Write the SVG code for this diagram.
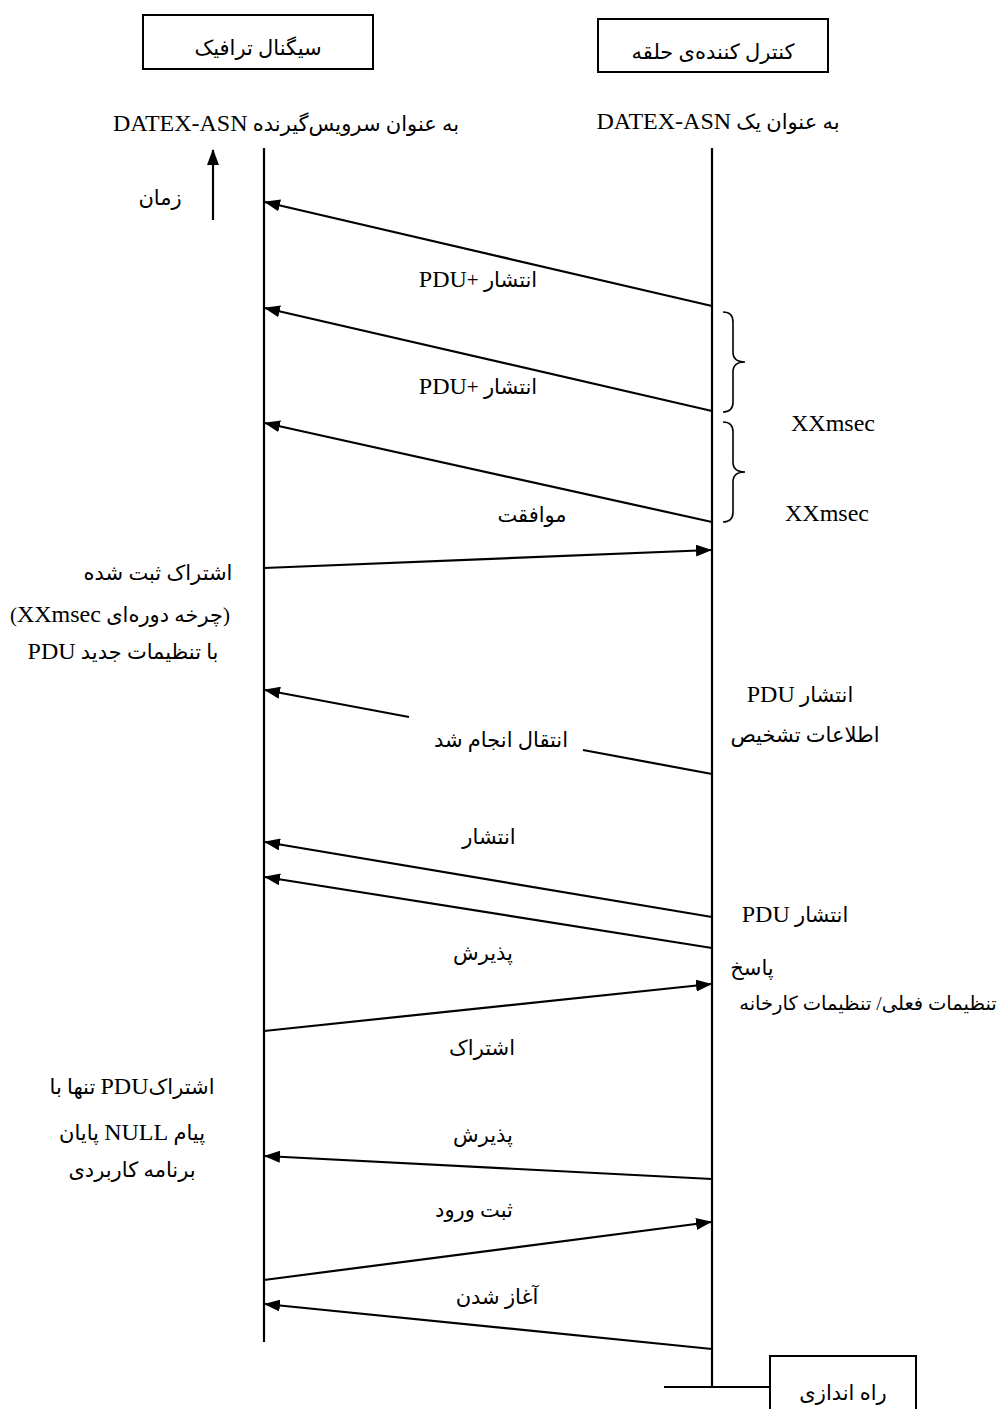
<svg xmlns="http://www.w3.org/2000/svg" width="1006" height="1409" viewBox="0 0 1006 1409">
<style>
text{font-family:"Liberation Serif","DejaVu Sans",serif;font-size:21px;fill:#000;text-anchor:middle;direction:rtl;unicode-bidi:embed}
.lat{font-size:24px}
.box{fill:#fff;stroke:#000;stroke-width:2}
.life{stroke:#000;stroke-width:2.2;fill:none}
.msg{stroke:#000;stroke-width:2.2;fill:none}
.brace{stroke:#000;stroke-width:1.6;fill:none}
</style>
<defs>
<marker id="ah" viewBox="0 0 16 12" refX="15" refY="6" markerUnits="userSpaceOnUse" markerWidth="16" markerHeight="12" orient="auto">
<path d="M0,0 L16,6 L0,12 Z" fill="#000"/>
</marker>
</defs>
<rect width="1006" height="1409" fill="#fff"/>

<g id="node-traffic-signal">
<rect class="box" x="143" y="15" width="230" height="54"/>
<text x="258" y="55">سیگنال ترافیک</text>
</g>
<g id="node-loop-controller">
<rect class="box" x="598" y="19" width="230" height="53"/>
<text x="713" y="59">کنترل کننده‌ی حلقه</text>
</g>
<g id="node-startup">
<rect class="box" x="770" y="1356" width="146" height="60"/>
<text x="843" y="1400">راه اندازی</text>
</g>

<g id="headers">
<text x="286" y="131">به عنوان سرویس‌گیرنده <tspan class="lat">DATEX-ASN</tspan></text>
<text x="718" y="129">به عنوان یک <tspan class="lat">DATEX-ASN</tspan></text>
</g>

<g id="lifelines">
<line class="life" x1="264" y1="148" x2="264" y2="1342"/>
<line class="life" x1="712" y1="148" x2="712" y2="1387"/>
<line class="life" x1="664" y1="1387" x2="770" y2="1387"/>
</g>

<g id="connectors">
<line class="msg" x1="213" y1="220" x2="213" y2="150" marker-end="url(#ah)"/>
<line class="msg" x1="712" y1="306" x2="265" y2="202" marker-end="url(#ah)"/>
<line class="msg" x1="712" y1="411" x2="265" y2="308" marker-end="url(#ah)"/>
<line class="msg" x1="712" y1="522" x2="265" y2="423" marker-end="url(#ah)"/>
<line class="msg" x1="264" y1="568" x2="711" y2="550" marker-end="url(#ah)"/>
<line class="msg" x1="712" y1="774" x2="583" y2="750"/>
<line class="msg" x1="409" y1="717" x2="265" y2="690" marker-end="url(#ah)"/>
<line class="msg" x1="712" y1="917" x2="265" y2="842" marker-end="url(#ah)"/>
<line class="msg" x1="712" y1="948" x2="265" y2="877" marker-end="url(#ah)"/>
<line class="msg" x1="264" y1="1031" x2="711" y2="984" marker-end="url(#ah)"/>
<line class="msg" x1="712" y1="1179" x2="265" y2="1156" marker-end="url(#ah)"/>
<line class="msg" x1="264" y1="1280" x2="711" y2="1222" marker-end="url(#ah)"/>
<line class="msg" x1="712" y1="1349" x2="265" y2="1304" marker-end="url(#ah)"/>
<path class="brace" d="M723,312 Q733,312 733,322 L733,352 Q733,362 745,362 Q733,362 733,372 L733,402 Q733,412 723,412"/>
<path class="brace" d="M723,422 Q733,422 733,432 L733,462 Q733,472 745,472 Q733,472 733,482 L733,512 Q733,522 723,522"/>
</g>

<g id="labels">
<text x="160" y="205">زمان</text>
<text x="478" y="287">انتشار +<tspan class="lat">PDU</tspan></text>
<text x="478" y="394">انتشار +<tspan class="lat">PDU</tspan></text>
<text class="lat" x="833" y="431">XXmsec</text>
<text class="lat" x="827" y="521">XXmsec</text>
<text x="532" y="522">موافقت</text>
<text x="158" y="580">اشتراک ثبت شده</text>
<text x="120" y="622">(چرخه دوره‌ای <tspan class="lat">XXmsec</tspan>)</text>
<text x="123" y="659">با تنظیمات جدید <tspan class="lat">PDU</tspan></text>
<text x="501" y="747">انتقال انجام شد</text>
<text x="800" y="702">انتشار <tspan class="lat">PDU</tspan></text>
<text x="805" y="742">اطلاعات تشخیص</text>
<text x="489" y="844">انتشار</text>
<text x="483" y="960">پذیرش</text>
<text x="482" y="1055">اشتراک</text>
<text x="795" y="922">انتشار <tspan class="lat">PDU</tspan></text>
<text x="752" y="975">پاسخ</text>
<text x="868" y="1010" style="font-size:19.5px">تنظیمات فعلی/ تنظیمات کارخانه</text>
<text x="132" y="1094">اشتراک<tspan class="lat">PDU</tspan> تنها با</text>
<text x="132" y="1140">پیام <tspan class="lat">NULL</tspan> پایان</text>
<text x="132" y="1177">برنامه کاربردی</text>
<text x="483" y="1142">پذیرش</text>
<text x="474" y="1217">ثبت ورود</text>
<text x="497" y="1304">آغاز شدن</text>
</g>
</svg>
